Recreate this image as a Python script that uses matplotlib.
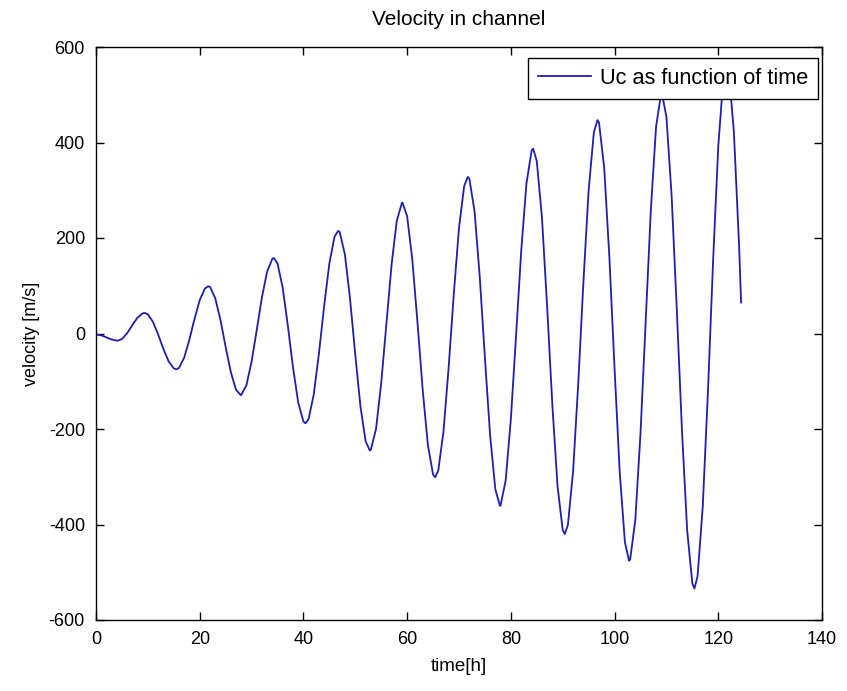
import numpy as np
import matplotlib
matplotlib.use("Agg")
import matplotlib.pyplot as plt

plt.rcParams['font.family'] = ['Liberation Sans', 'DejaVu Sans']
plt.rcParams['axes.unicode_minus'] = False

# Hourly readings of Uc (t = 0..124 h)
hours = list(range(0, 125))
uc_hourly = [
    -2, -3.7, -8.0, -12.5, -14.9, -11.7, 0.5, 17.5, 33.2, 42.2,
    40.2, 24.1, -2.5, -32.5, -58.3, -73.1, -72.2, -50.7, -13.2, 30.7,
    69.9, 94.3, 97.3, 73.7, 28.3, -27.9, -80.9, -117.7, -128.8, -108.6,
    -59.3, 7.5, 75.9, 129.7, 156.4, 146.9, 95.9, 16.0, -71.9, -144.9,
    -184.4, -179.1, -127.1, -41.1, 58.2, 146.7, 202.9, 212.3, 165.3, 71.7,
    -44.7, -153.2, -225.9, -243.7, -199.8, -103.8, 21.0, 144.3, 235.9, 273.7,
    245.5, 154.4, 22.2, -118.4, -233.7, -295.3, -287.2, -206.0, -71.7, 83.3,
    221.4, 309.1, 323.9, 256.0, 119.2, -51.3, -213.2, -325.9, -360.5, -307.9,
    -179.2, -5.3, 173.1, 313.3, 382.9, 361.2, 242.1, 55.7, -149.3, -319.5,
    -411.5, -400.9, -289.1, -104.0, 109.7, 300.0, 421.0, 441.5, 347.3, 159.5,
    -74.0, -291.9, -437.7, -473.5, -390.7, -209.2, 26.8, 259.8, 432.9, 504.4,
    453.6, 288.9, 49.9, -204.1, -412.4, -523.6, -508.8, -363.4, -123.2, 152.2,
    392.4, 537.8, 551.2, 424.1, 187.1,
]

# Readings at the turning points (peaks / troughs) and the last sample
t_extrema = [4.2, 9.4, 15.5, 21.65, 27.9, 34.3, 40.4, 46.7, 52.8, 59.1, 65.4,
             71.7, 77.9, 84.3, 90.4, 96.7, 102.8, 109.1, 115.4, 121.6, 124.4]
uc_extrema = [-15, 43, -75, 99, -129, 158, -188, 215, -245, 274, -301,
              328, -361, 387, -420, 447, -476, 505, -534, 563, 65]

x_ticks = [0, 20, 40, 60, 80, 100, 120, 140]
y_ticks = [-600, -400, -200, 0, 200, 400, 600]

t_all = np.array(hours + t_extrema, dtype=float)
u_all = np.array(uc_hourly + uc_extrema, dtype=float)
order = np.argsort(t_all)
t_all, u_all = t_all[order], u_all[order]

fig = plt.figure(figsize=(8.47, 6.91), dpi=100)
fig.patch.set_facecolor('white')
ax = fig.add_axes([96/847, 1-620/691, (822-96)/847, (620-47)/691])

ax.plot(t_all, u_all, color='#1e1eb0', lw=1.3, label='Uc as function of time')

ax.set_xlim(0, 140)
ax.set_ylim(-600, 600)
ax.set_xticks(x_ticks)
ax.set_yticks(y_ticks)
ax.tick_params(direction='in', top=True, right=True, length=6, width=1,
               labelsize=13, pad=8, colors='black')
for s in ax.spines.values():
    s.set_linewidth(1.0)
    s.set_color('black')

ax.set_xlabel('time[h]', fontsize=13.5, labelpad=7)
ax.set_ylabel('velocity [m/s]', fontsize=13, labelpad=6)
ax.set_title('Velocity in channel', fontsize=15, pad=16)

leg = ax.legend(loc='upper right', bbox_to_anchor=(0.9945, 0.981),
                borderaxespad=0, fontsize=15.7, fancybox=False, framealpha=1,
                edgecolor='black', handlelength=2.43, handletextpad=0.41,
                borderpad=0.45)
leg.get_frame().set_linewidth(1.0)

fig.savefig('out.png', dpi=100, facecolor='white')
